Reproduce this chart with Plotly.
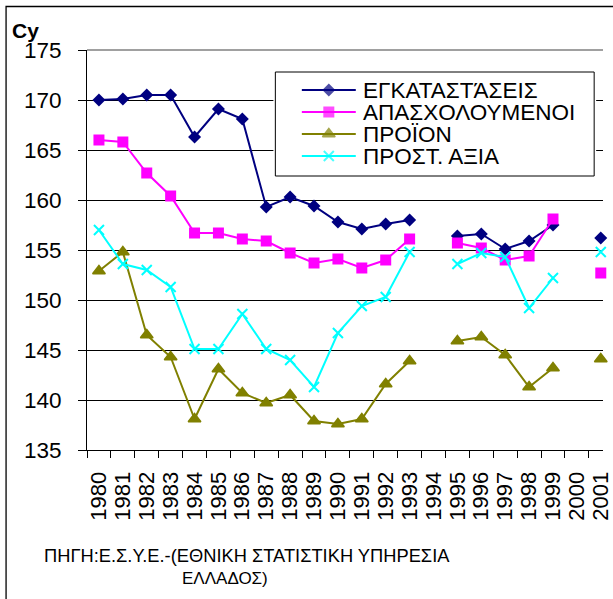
import plotly.graph_objects as go

# ---- data -------------------------------------------------------------
years = [str(y) for y in range(1980, 2002)]

egkatastaseis = [170.0, 170.1, 170.5, 170.5, 166.3, 169.1, 168.1, 159.3, 160.3, 159.4,
                 157.8, 157.1, 157.6, 158.0, None, 156.4, 156.6, 155.1, 155.9, 157.5,
                 None, 156.2]
apasxoloumenoi = [166.0, 165.8, 162.7, 160.4, 156.7, 156.7, 156.1, 155.9, 154.7, 153.7,
                  154.1, 153.2, 154.0, 156.1, None, 155.7, 155.2, 154.0, 154.4, 158.1,
                  None, 152.7]
proion = [152.9, 154.8, 146.5, 144.3, 138.1, 143.1, 140.7, 139.7, 140.5, 137.9,
          137.6, 138.1, 141.6, 143.9, None, 145.9, 146.3, 144.5, 141.3, 143.2,
          None, 144.1]
prost_axia = [157.0, 153.6, 153.0, 151.3, 145.1, 145.1, 148.6, 145.1, 144.0, 141.3,
              146.7, 149.4, 150.3, 154.8, None, 153.6, 154.7, 154.3, 149.2, 152.2,
              None, 154.8]

series_names = ["ΕΓΚΑΤΑΣΤΆΣΕΙΣ", "ΑΠΑΣΧΟΛΟΥΜΕΝΟΙ", "ΠΡΟΪΟΝ", "ΠΡΟΣΤ. ΑΞΙΑ"]
series_values = [egkatastaseis, apasxoloumenoi, proion, prost_axia]

y_ticks = [135, 140, 145, 150, 155, 160, 165, 170, 175]

# ---- styles -----------------------------------------------------------
FONT = "Liberation Sans, Arial, sans-serif"
styles = [
    dict(color="#000080", symbol="diamond", size=10, lw=0),
    dict(color="#FF00FF", symbol="square", size=11, lw=0),
    dict(color="#808000", symbol="triangle-up", size=11, lw=1.5),
    dict(color="#00FFFF", symbol="x-thin", size=10, lw=2),
]

W, H = 613, 599
ML, MT, MR, MB = 87, 50, 0, 149
PW, PH = W - ML - MR, H - MT - MB
CAT_PX = 24.36  # width of one category slot


def px_x(px):
    return (px - ML) / PW


def px_y(py):
    return 1 - (py - MT) / PH


fig = go.Figure()

for name, vals, st in zip(series_names, series_values, styles):
    fig.add_trace(go.Scatter(
        x=years, y=vals, name=name, mode="lines+markers",
        line=dict(color=st["color"], width=2),
        marker=dict(symbol=st["symbol"], size=st["size"], color=st["color"],
                    line=dict(color=st["color"], width=st["lw"])),
        showlegend=False, cliponaxis=False, xaxis="x", yaxis="y",
    ))

# ---- legend drawn on its own small pixel-unit axes --------------------
LEG = dict(x0=279, x1=604, y0=72, y1=176, key_x0=306, key_x1=361,
           text_x=366, row0=90, row_gap=22)
pad = 2
ax2_x = [LEG["x0"] - pad, LEG["x1"] + pad]
ax2_y = [LEG["y0"] - pad, LEG["y1"] + pad]

fig.add_trace(go.Scatter(
    x=[LEG["x0"], LEG["x1"], LEG["x1"], LEG["x0"], LEG["x0"]],
    y=[LEG["y0"], LEG["y0"], LEG["y1"], LEG["y1"], LEG["y0"]],
    mode="lines", fill="toself", fillcolor="white",
    line=dict(color="black", width=1), hoverinfo="skip",
    showlegend=False, xaxis="x2", yaxis="y2",
))
for i, (name, st) in enumerate(zip(series_names, styles)):
    ry = LEG["row0"] + i * LEG["row_gap"]
    kx_mid = (LEG["key_x0"] + LEG["key_x1"]) / 2
    fig.add_trace(go.Scatter(
        x=[LEG["key_x0"], kx_mid, LEG["key_x1"]], y=[ry, ry, ry],
        mode="lines+markers", line=dict(color=st["color"], width=2),
        marker=dict(symbol=st["symbol"], size=[0, st["size"], 0], color=st["color"],
                    line=dict(color=st["color"], width=st["lw"])),
        hoverinfo="skip", showlegend=False, xaxis="x2", yaxis="y2",
    ))
    fig.add_annotation(x=LEG["text_x"], y=ry, xref="x2", yref="y2", text=name,
                       showarrow=False, xanchor="left", yanchor="middle",
                       font=dict(family=FONT, size=22.5, color="black"))

fig.update_layout(
    width=W, height=H,
    margin=dict(l=ML, r=MR, t=MT, b=MB, pad=0),
    paper_bgcolor="white", plot_bgcolor="white",
    font=dict(family=FONT, color="black"),
    xaxis=dict(
        type="category", categoryorder="array", categoryarray=years,
        range=[-0.5, -0.5 + PW / CAT_PX],
        tickmode="array", tickvals=years, ticktext=years,
        tickson="boundaries", ticks="outside", ticklen=7, tickwidth=1, tickcolor="black",
        showgrid=False, showline=True, linecolor="black", linewidth=1,
        tickangle=-90, tickfont=dict(family=FONT, size=22, color="black"),
        ticklabelstandoff=12, zeroline=False,
    ),
    yaxis=dict(
        range=[135, 175], tickvals=y_ticks, ticktext=[str(v) for v in y_ticks],
        ticks="outside", ticklen=8, tickwidth=1, tickcolor="black",
        showgrid=True, gridcolor="black", gridwidth=1,
        showline=True, linecolor="black", linewidth=1, zeroline=False,
        tickfont=dict(family=FONT, size=22.5, color="black"), ticklabelstandoff=12,
    ),
    xaxis2=dict(domain=[px_x(ax2_x[0]), px_x(ax2_x[1])], range=ax2_x, visible=False,
                anchor="y2", fixedrange=True),
    yaxis2=dict(domain=[px_y(ax2_y[1]), px_y(ax2_y[0])], range=[ax2_y[1], ax2_y[0]],
                visible=False, anchor="x2", fixedrange=True),
    shapes=[
        # grey frame edge along the top of the plot area
        dict(type="line", xref="paper", yref="paper", x0=0, x1=1, y0=1, y1=1,
             line=dict(color="#808080", width=1.5), layer="above"),
        # outer chart-area frame
        dict(type="rect", xref="paper", yref="paper",
             x0=px_x(4.5), x1=px_x(625), y0=px_y(610), y1=px_y(6.5),
             line=dict(color="black", width=1.3), fillcolor="rgba(0,0,0,0)", layer="above"),
    ],
)

fig.add_annotation(text="<b>Cy</b>", xref="paper", yref="paper",
                   x=px_x(9), y=px_y(31), xanchor="left", yanchor="middle",
                   showarrow=False, font=dict(family=FONT, size=21, color="black"))
fig.add_annotation(text="ΠΗΓΗ:Ε.Σ.Υ.Ε.-(ΕΘΝΙΚΗ ΣΤΑΤΙΣΤΙΚΗ ΥΠΗΡΕΣΙΑ", xref="paper", yref="paper",
                   x=px_x(41), y=px_y(555), xanchor="left", yanchor="middle",
                   showarrow=False, font=dict(family=FONT, size=18.3, color="black"))
fig.add_annotation(text="ΕΛΛΑΔΟΣ)", xref="paper", yref="paper",
                   x=px_x(228), y=px_y(578), xanchor="center", yanchor="middle",
                   showarrow=False, font=dict(family=FONT, size=17, color="black"))

fig.write_html("out.html")
